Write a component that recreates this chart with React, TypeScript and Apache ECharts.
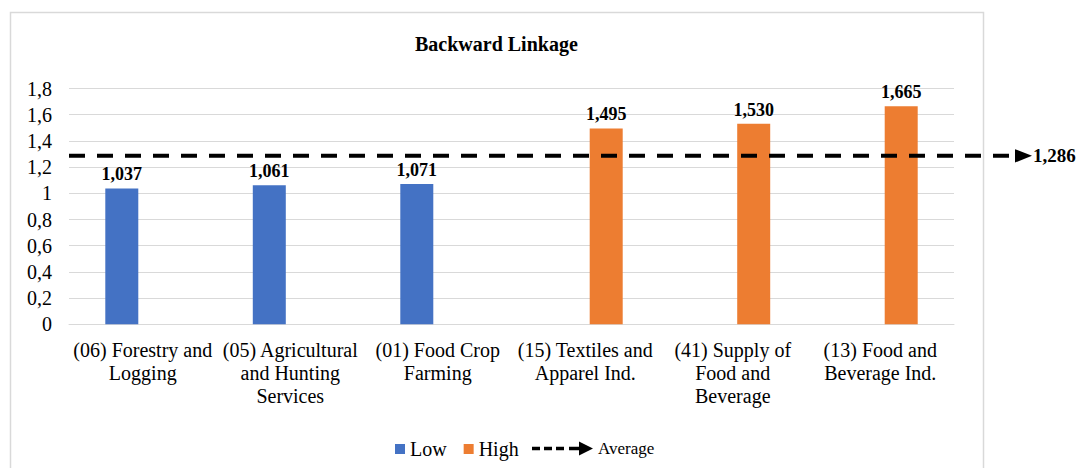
import React, { useEffect, useRef } from 'react';
import * as echarts from 'echarts';

const TITLE = 'Backward Linkage';
const CATEGORIES = [
  '(06) Forestry and\nLogging',
  '(05) Agricultural\nand Hunting\nServices',
  '(01) Food Crop\nFarming',
  '(15) Textiles and\nApparel Ind.',
  '(41) Supply of\nFood and\nBeverage',
  '(13) Food and\nBeverage Ind.',
];
const LOW_VALUES: (number | null)[] = [1.037, 1.061, 1.071, null, null, null];
const HIGH_VALUES: (number | null)[] = [null, null, null, 1.495, 1.53, 1.665];
const AVERAGE = 1.286;
const Y_MIN = 0;
const Y_MAX = 1.8;
const Y_STEP = 0.2;
const SERIES_NAMES = ['Low', 'High', 'Average'];

const FONT = 'Liberation Serif, Times New Roman, serif';
const BLUE = '#4472C4';
const ORANGE = '#ED7D31';
const GRID_COLOR = '#d9d9d9';
const GRID_LEFT = 69;

const AVG_ICON =
  'path://M0,5.3H8V8.7H0Z M12,5.3H20V8.7H12Z M24,5.3H32V8.7H24Z M37,5.3H49V8.7H37Z M47,0L61,7L47,14Z';

const fmtComma3 = (v: number) => v.toFixed(3).replace('.', ',');
const fmtAxis = (v: number) => String(+v.toFixed(1)).replace('.', ',');

export default function App() {
  const ref = useRef<HTMLDivElement>(null);

  useEffect(() => {
    if (!ref.current) return;
    const chart = echarts.init(ref.current, null, { renderer: 'svg' });

    const barLabel = {
      show: true,
      position: 'top',
      distance: 5,
      color: '#000',
      fontFamily: FONT,
      fontSize: 18,
      fontWeight: 'bold',
      formatter: (p: any) => (p.value == null ? '' : fmtComma3(Number(p.value))),
    };

    chart.setOption({
      animation: false,
      backgroundColor: '#fff',
      textStyle: { fontFamily: FONT },
      title: {
        text: TITLE,
        left: 415,
        top: 34,
        padding: 0,
        textStyle: { fontFamily: FONT, fontSize: 20, fontWeight: 'bold', color: '#000' },
      },
      grid: { left: GRID_LEFT, right: 132, top: 88.5, bottom: 143.7 },
      legend: [
        {
          data: [SERIES_NAMES[0], SERIES_NAMES[1]],
          left: 395,
          top: 439,
          padding: 0,
          icon: 'rect',
          itemWidth: 10,
          itemHeight: 10,
          itemGap: 17,
          selectedMode: false,
          textStyle: { fontFamily: FONT, fontSize: 20, color: '#000' },
        },
        {
          data: [
            {
              name: SERIES_NAMES[2],
              icon: AVG_ICON,
              itemStyle: { color: '#000', borderWidth: 0 },
            },
          ],
          left: 532,
          top: 440,
          padding: 0,
          itemWidth: 61,
          itemHeight: 14,
          selectedMode: false,
          textStyle: { fontFamily: FONT, fontSize: 17, color: '#000', padding: [6, 0, 0, 0] },
        },
      ],
      xAxis: {
        type: 'category',
        data: CATEGORIES,
        axisLine: { lineStyle: { color: GRID_COLOR, width: 1 } },
        axisTick: { show: false },
        axisLabel: {
          interval: 0,
          margin: 14,
          fontFamily: FONT,
          fontSize: 20,
          lineHeight: 23,
          color: '#000',
        },
      },
      yAxis: {
        type: 'value',
        min: Y_MIN,
        max: Y_MAX,
        interval: Y_STEP,
        axisLine: { show: false },
        axisTick: { show: false },
        splitLine: { lineStyle: { color: GRID_COLOR, width: 1 } },
        axisLabel: {
          margin: 17,
          fontFamily: FONT,
          fontSize: 20,
          color: '#000',
          formatter: (v: number) => fmtAxis(v),
        },
      },
      series: [
        {
          name: SERIES_NAMES[0],
          type: 'bar',
          data: LOW_VALUES,
          barWidth: 33,
          barGap: '27%',
          itemStyle: { color: BLUE },
          label: barLabel,
        },
        {
          name: SERIES_NAMES[1],
          type: 'bar',
          data: HIGH_VALUES,
          barWidth: 33,
          barGap: '27%',
          itemStyle: { color: ORANGE },
          label: barLabel,
        },
        {
          name: SERIES_NAMES[2],
          type: 'line',
          data: [],
          itemStyle: { color: '#000' },
          lineStyle: { color: '#000', type: 'dashed', width: 4 },
        },
      ],
    });

    const y = chart.convertToPixel({ yAxisIndex: 0 }, AVERAGE) as number;

    chart.setOption({
      graphic: [
        {
          type: 'rect',
          silent: true,
          z: -1,
          shape: { x: 10.5, y: 12.5, width: 973, height: 480 },
          style: { fill: 'none', stroke: GRID_COLOR, lineWidth: 1.5 },
        },
        {
          type: 'line',
          silent: true,
          z: 10,
          shape: { x1: GRID_LEFT, y1: y, x2: 1009, y2: y },
          style: { stroke: '#000', lineWidth: 4, lineDash: [16, 12] },
        },
        {
          type: 'polygon',
          silent: true,
          z: 10,
          shape: { points: [[1015, y - 6.7], [1032, y], [1015, y + 6.7]] },
          style: { fill: '#000' },
        },
        {
          type: 'text',
          silent: true,
          z: 10,
          x: 1033,
          y: y,
          style: {
            text: fmtComma3(AVERAGE),
            fill: '#000',
            fontFamily: FONT,
            fontSize: 19,
            fontWeight: 'bold',
            verticalAlign: 'middle',
            align: 'left',
          },
        },
      ],
    });

    return () => {
      chart.dispose();
    };
  }, []);

  return (
    <div
      ref={ref}
      style={{ position: 'absolute', left: 0, top: 0, width: 1086, height: 468 }}
    />
  );
}
